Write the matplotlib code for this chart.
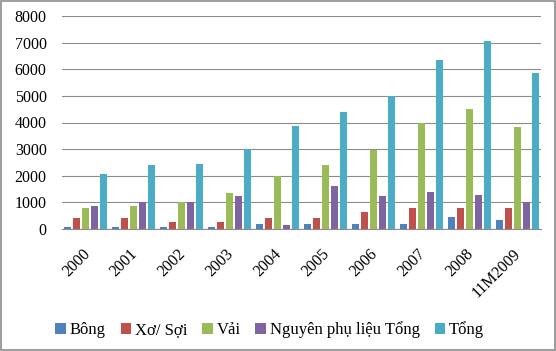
import numpy as np
import matplotlib.pyplot as plt
import matplotlib.transforms as mtransforms
from matplotlib.patches import Rectangle

years = ['2000', '2001', '2002', '2003', '2004', '2005', '2006', '2007', '2008', '11M2009']
bong = [90, 90, 90, 90, 200, 190, 200, 200, 450, 350]
xo_soi = [400, 400, 280, 250, 400, 410, 650, 790, 790, 790]
vai = [800, 850, 1000, 1340, 1980, 2400, 2980, 3990, 4490, 3840]
npl = [880, 1000, 1000, 1240, 140, 1600, 1250, 1390, 1290, 1000]
tong = [2080, 2420, 2460, 3010, 3880, 4380, 4990, 6350, 7050, 5860]

series = [bong, xo_soi, vai, npl, tong]
names = ['Bông', 'Xơ/ Sợi', 'Vải', 'Nguyên phụ liệu Tổng', 'Tổng']
colors = ['#4F81BD', '#C0504D', '#9BBB59', '#8064A2', '#4BACC6']

plt.rcParams['font.family'] = ['Liberation Serif', 'DejaVu Serif']

fig = plt.figure(figsize=(5.56, 3.51), dpi=100)
ax = fig.add_axes([62/556, 1 - 229/351, 479/556, 213/351])

x = np.arange(len(years))
step = 0.188
width = 0.146
for i, (vals, name, c) in enumerate(zip(series, names, colors)):
    ax.bar(x + (i - 2) * step, vals, width=width, color=c, label=name, zorder=3)

ax.set_xlim(-0.5, len(years) - 0.5)
ax.set_ylim(0, 8000)
ax.set_yticks(range(0, 8001, 1000))
ax.yaxis.grid(True, color='#8c8c8c', linewidth=0.8, zorder=0)
ax.set_axisbelow(True)
for s in ['left', 'right', 'top']:
    ax.spines[s].set_visible(False)
ax.spines['bottom'].set_color('#8c8c8c')
ax.tick_params(axis='y', length=0, labelsize=11.5, pad=11)
ax.tick_params(axis='x', length=0, labelsize=11.5, pad=12)
ax.set_xticks(x)
ax.set_xticklabels(years, rotation=45, ha='right', rotation_mode='anchor')
shift = mtransforms.ScaledTranslation(-4/100, 0, fig.dpi_scale_trans)
for lbl in ax.get_xticklabels():
    lbl.set_transform(lbl.get_transform() + shift)

fig.legend(loc='center', bbox_to_anchor=(0.485, 0.06), ncol=5, frameon=False,
           fontsize=12, handlelength=0.65, handleheight=0.65, handletextpad=0.2,
           columnspacing=0.9)

fig.patches.append(Rectangle((0.002, 0.003), 0.996, 0.994, transform=fig.transFigure,
                             fill=False, edgecolor='#8c8c8c', linewidth=1.2))

fig.savefig('out.png', dpi=100)
